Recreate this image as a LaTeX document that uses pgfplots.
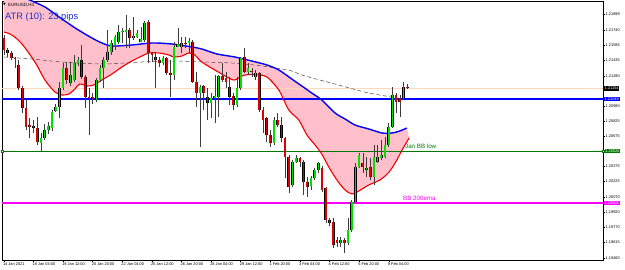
\documentclass[border=0pt]{standalone}
\usepackage{fontspec}
\setmainfont{Liberation Sans}
\newfontfamily\djv{DejaVu Sans}
\usepackage{pgfplots}
\pgfplotsset{compat=1.18}
\usepackage{pgfplotstable}

\definecolor{bandfill}{RGB}{255,192,203}
\definecolor{bandblue}{RGB}{0,0,255}
\definecolor{bandred}{RGB}{240,0,0}
\definecolor{bull}{RGB}{0,225,0}
\definecolor{bear}{RGB}{220,0,0}
\definecolor{wick}{RGB}{60,60,60}
\definecolor{hblue}{RGB}{0,0,255}
\definecolor{hgreen}{RGB}{0,120,0}
\definecolor{hmag}{RGB}{255,0,255}
\definecolor{bid}{RGB}{255,215,185}
\definecolor{atr}{RGB}{25,45,200}
\definecolor{emagray}{RGB}{70,70,70}

% high / low of every H4 bar
\pgfplotstableread{
n h l
0 1.21689 1.21489
1 1.21559 1.21469
2 1.21529 1.21439
3 1.21469 1.21359
4 1.21439 1.21139
5 1.21179 1.20909
6 1.21039 1.20739
7 1.20859 1.20659
8 1.20839 1.20709
9 1.20869 1.20589
10 1.20709 1.20529
11 1.20799 1.20639
12 1.20819 1.20699
13 1.20939 1.20729
14 1.20999 1.20919
15 1.21219 1.20859
16 1.21409 1.21139
17 1.21419 1.21199
18 1.21419 1.21179
19 1.21489 1.21219
20 1.21469 1.21379
21 1.21589 1.21249
22 1.21289 1.20959
23 1.21159 1.20689
24 1.21109 1.20999
25 1.21259 1.21019
26 1.21389 1.21219
27 1.21469 1.21159
28 1.21739 1.21419
29 1.21639 1.21489
30 1.21689 1.21539
31 1.21789 1.21599
32 1.21759 1.21609
33 1.21889 1.21559
34 1.21759 1.21559
35 1.21869 1.21639
36 1.21739 1.21659
37 1.21769 1.21619
38 1.21829 1.21619
39 1.21839 1.21409
40 1.21519 1.21419
41 1.21509 1.21159
42 1.21469 1.21369
43 1.21479 1.21389
44 1.21469 1.21289
45 1.21439 1.21069
46 1.21619 1.21239
47 1.21759 1.21569
48 1.21669 1.21509
49 1.21669 1.21559
50 1.21659 1.21509
51 1.21639 1.21209
52 1.21319 1.20969
53 1.21189 1.20569
54 1.21189 1.20939
55 1.21159 1.20839
56 1.21109 1.20859
57 1.21289 1.20809
58 1.21289 1.20869
59 1.21409 1.21219
60 1.21319 1.21159
61 1.21269 1.20989
62 1.21109 1.20939
63 1.21269 1.20969
64 1.21469 1.21139
65 1.21559 1.21309
66 1.21409 1.21289
67 1.21359 1.21269
68 1.21339 1.21239
69 1.21319 1.20919
70 1.20969 1.20709
71 1.20869 1.20619
72 1.20739 1.20569
73 1.20869 1.20589
74 1.20909 1.20769
75 1.20869 1.20619
76 1.20669 1.20259
77 1.20489 1.20109
78 1.20439 1.20169
79 1.20489 1.20409
80 1.20469 1.20369
81 1.20439 1.20089
82 1.20269 1.20069
83 1.20279 1.20139
84 1.20359 1.20239
85 1.20419 1.20309
86 1.20379 1.20119
87 1.20169 1.19809
88 1.19859 1.19779
89 1.19859 1.19559
90 1.19669 1.19569
91 1.19669 1.19569
92 1.19659 1.19509
93 1.19859 1.19589
94 1.20039 1.19719
95 1.20409 1.20009
96 1.20509 1.20359
97 1.20509 1.20309
98 1.20469 1.20269
99 1.20459 1.20239
100 1.20589 1.20189
101 1.20589 1.20409
102 1.20639 1.20439
103 1.20669 1.20459
104 1.20809 1.20569
105 1.21169 1.20759
106 1.21109 1.20909
107 1.21089 1.20869
108 1.21219 1.21039
109 1.21199 1.21149
}\wicks

% rising bars: open, close
\pgfplotstableread{
n o c
10 1.20609 1.20659
11 1.20659 1.20739
12 1.20739 1.20779
13 1.20759 1.20919
14 1.20929 1.20969
15 1.20969 1.21159
16 1.21159 1.21359
18 1.21209 1.21289
19 1.21239 1.21409
20 1.21409 1.21439
25 1.21039 1.21239
26 1.21239 1.21359
27 1.21359 1.21439
28 1.21439 1.21519
29 1.21519 1.21609
30 1.21589 1.21669
31 1.21619 1.21719
32 1.21719 1.21729
33 1.21719 1.21739
35 1.21659 1.21679
36 1.21669 1.21709
37 1.21619 1.21649
38 1.21639 1.21809
43 1.21409 1.21459
46 1.21289 1.21569
47 1.21569 1.21599
48 1.21569 1.21609
50 1.21609 1.21629
53 1.21109 1.21169
56 1.21009 1.21059
57 1.21059 1.21079
58 1.21069 1.21279
63 1.20989 1.21159
64 1.21159 1.21459
66 1.21319 1.21359
68 1.21269 1.21309
73 1.20609 1.20839
78 1.20189 1.20419
79 1.20419 1.20459
83 1.20179 1.20259
84 1.20259 1.20339
85 1.20339 1.20409
91 1.19609 1.19639
93 1.19609 1.19739
94 1.19739 1.20019
95 1.20019 1.20369
96 1.20369 1.20489
98 1.20339 1.20359
100 1.20269 1.20469
101 1.20419 1.20469
102 1.20459 1.20489
103 1.20469 1.20589
104 1.20589 1.20769
105 1.20769 1.21089
108 1.21059 1.21169
}\bulls

% falling bars: open, close
\pgfplotstableread{
n o c
0 1.21659 1.21539
1 1.21539 1.21509
2 1.21509 1.21459
3 1.21459 1.21449
4 1.21389 1.21159
5 1.21159 1.20959
6 1.20959 1.20769
7 1.20789 1.20769
8 1.20779 1.20759
9 1.20759 1.20619
17 1.21359 1.21239
21 1.21439 1.21269
22 1.21269 1.21069
23 1.21069 1.21059
24 1.21069 1.21049
34 1.21739 1.21659
39 1.21819 1.21509
40 1.21509 1.21489
41 1.21469 1.21439
42 1.21439 1.21409
44 1.21459 1.21309
45 1.21309 1.21289
49 1.21609 1.21599
51 1.21619 1.21219
52 1.21219 1.21109
54 1.21179 1.21109
55 1.21069 1.21009
59 1.21279 1.21239
60 1.21259 1.21219
61 1.21169 1.21069
62 1.21079 1.20989
65 1.21469 1.21319
67 1.21329 1.21319
69 1.21309 1.20939
70 1.20939 1.20839
71 1.20859 1.20689
72 1.20689 1.20609
74 1.20839 1.20789
75 1.20789 1.20659
76 1.20659 1.20469
77 1.20469 1.20169
80 1.20459 1.20419
81 1.20419 1.20219
82 1.20219 1.20169
86 1.20359 1.20139
87 1.20159 1.19839
88 1.19839 1.19809
89 1.19819 1.19589
90 1.19639 1.19609
92 1.19639 1.19609
97 1.20409 1.20369
99 1.20369 1.20269
106 1.21089 1.21019
107 1.21049 1.21019
109 1.21169 1.21154
}\bears

\pgfplotstableread{
n p
0 1.22189
3.5 1.22109
7.0 1.22039
11.1 1.21969
15.7 1.21849
19.7 1.21749
23.8 1.21659
26.5 1.21609
29.2 1.21579
34.6 1.21589
40 1.21609
45.4 1.21599
50.8 1.21569
53.5 1.21549
57.6 1.21499
62.4 1.21469
67 1.21429
71.1 1.21389
74.3 1.21339
77.8 1.21249
80.5 1.21179
83.2 1.21109
85.9 1.21039
89.5 1.20909
92.2 1.20849
94.9 1.20789
98.6 1.20749
102.2 1.20709
104.9 1.20709
107 1.20729
108.9 1.20759
}\bandup

\pgfplotstableread{
n p
0 1.21719
2.2 1.21689
4.9 1.21599
8.4 1.21419
11.1 1.21239
13.8 1.21119
15.7 1.21089
17.6 1.21099
19.2 1.21149
20.5 1.21199
22.4 1.21179
24.3 1.21189
26.5 1.21239
29.2 1.21299
31.9 1.21369
34.6 1.21429
37.3 1.21479
39.2 1.21509
41.9 1.21509
44.6 1.21489
45.9 1.21469
48.1 1.21479
50 1.21509
51.6 1.21489
53.5 1.21419
57 1.21339
60.8 1.21259
62.4 1.21239
65.1 1.21289
68.9 1.21289
71.1 1.21269
74.3 1.21139
77 1.20939
79.7 1.20839
81.9 1.20689
84.1 1.20589
85.9 1.20499
87.8 1.20369
90 1.20239
92.2 1.20139
94.1 1.20099
95.9 1.20129
98.6 1.20189
101.6 1.20239
104.1 1.20319
106.2 1.20439
107.6 1.20539
109.5 1.20659
}\bandlo

% band area: upper band forward, lower band backward
\pgfplotstableread{
n p
0 1.22189
3.5 1.22109
7.0 1.22039
11.1 1.21969
15.7 1.21849
19.7 1.21749
23.8 1.21659
26.5 1.21609
29.2 1.21579
34.6 1.21589
40 1.21609
45.4 1.21599
50.8 1.21569
53.5 1.21549
57.6 1.21499
62.4 1.21469
67 1.21429
71.1 1.21389
74.3 1.21339
77.8 1.21249
80.5 1.21179
83.2 1.21109
85.9 1.21039
89.5 1.20909
92.2 1.20849
94.9 1.20789
98.6 1.20749
102.2 1.20709
104.9 1.20709
107 1.20729
108.9 1.20759
109.5 1.20659
107.6 1.20539
106.2 1.20439
104.1 1.20319
101.6 1.20239
98.6 1.20189
95.9 1.20129
94.1 1.20099
92.2 1.20139
90 1.20239
87.8 1.20369
85.9 1.20499
84.1 1.20589
81.9 1.20689
79.7 1.20839
77 1.20939
74.3 1.21139
71.1 1.21269
68.9 1.21289
65.1 1.21289
62.4 1.21239
60.8 1.21259
57 1.21339
53.5 1.21419
51.6 1.21489
50 1.21509
48.1 1.21479
45.9 1.21469
44.6 1.21489
41.9 1.21509
39.2 1.21509
37.3 1.21479
34.6 1.21429
31.9 1.21369
29.2 1.21299
26.5 1.21239
24.3 1.21189
22.4 1.21179
20.5 1.21199
19.2 1.21149
17.6 1.21099
15.7 1.21089
13.8 1.21119
11.1 1.21239
8.4 1.21419
4.9 1.21599
2.2 1.21689
0 1.21719
}\bandarea

\pgfplotstableread{
n p
0 1.21469
7.6 1.21449
15.7 1.21419
26.5 1.21399
37.3 1.21419
45.4 1.21429
53.5 1.21419
61.6 1.21409
69.7 1.21379
77.8 1.21329
80.5 1.21289
91.4 1.21179
98.6 1.21109
104.9 1.21069
}\emaline

\begin{document}
\begin{tikzpicture}
\useasboundingbox (0,0) rectangle (625pt,270pt);
\begin{axis}[
  at={(2pt,10pt)}, anchor=south west, scale only axis,
  width=601pt, height=259pt,
  xmin=-0.5, xmax=161.9, ymin=1.19439, ymax=1.22029,
  axis line style={line width=0.5pt, black},
  xtick pos=bottom, ytick pos=right, yticklabel pos=right,
  tick align=outside, major tick length=2pt,
  tick style={black, line width=0.4pt},
  xtick={0,8,...,104},
  xticklabels={14 Jan 2021,18 Jan 04:00,19 Jan 12:00,20 Jan 20:00,22 Jan 04:00,25 Jan 12:00,26 Jan 20:00,28 Jan 04:00,29 Jan 12:00,1 Feb 20:00,3 Feb 04:00,4 Feb 12:00,5 Feb 20:00,9 Feb 04:00},
  ytick={1.21899,1.21740,1.21585,1.21435,1.21280,1.20980,1.20825,1.20675,1.20375,1.20225,1.20070,1.19920,1.19770,1.19615,1.19460},
  yticklabels={1.21899,1.21740,1.21585,1.21435,1.21280,1.20980,1.20825,1.20675,1.20375,1.20225,1.20070,1.19920,1.19770,1.19615,1.19460},
  xticklabel style={anchor=north west, inner sep=0pt, xshift=-1pt, yshift=-0.5pt, font=\fontsize{3.9}{4.5}\selectfont},
  yticklabel style={anchor=west, inner sep=0pt, xshift=0.5pt, font=\fontsize{3.9}{4.5}\selectfont},
]
% band fill
\addplot[fill=bandfill, draw=none, forget plot] table[x=n,y=p]{\bandarea};
% horizontal lines
\addplot[draw=bid, line width=0.7pt, forget plot] coordinates {(-0.5,1.21154) (161.9,1.21154)};
\addplot[draw=hblue, line width=1.1pt, forget plot] coordinates {(-0.5,1.21049) (161.9,1.21049)};
\addplot[draw=hgreen, line width=1.1pt, forget plot] coordinates {(-0.5,1.20526) (161.9,1.20526)};
\addplot[draw=hmag, line width=1.9pt, forget plot] coordinates {(-0.5,1.20006) (161.9,1.20006)};
% EMA dashed
\addplot[draw=emagray, line width=0.5pt, dash pattern=on 4pt off 2.5pt, smooth, forget plot] table[x=n,y=p]{\emaline};
% band lines
\addplot[draw=bandblue, line width=1.4pt, smooth, forget plot] table[x=n,y=p]{\bandup};
\addplot[draw=bandred, line width=1.1pt, smooth, forget plot] table[x=n,y=p]{\bandlo};
% wicks
\addplot[mark=none, draw opacity=0, forget plot, error bars/.cd, y dir=plus, y explicit, error mark=none, error bar style={draw opacity=1, wick, line width=0.55pt}]
  table[x=n, y=l, y error expr=\thisrow{h}-\thisrow{l}]{\wicks};
% body outlines
\addplot[mark=none, draw opacity=0, forget plot, error bars/.cd, y dir=plus, y explicit, error mark=none, error bar style={draw opacity=1, black, line width=2.7pt}]
  table[x=n, y=o, y error expr=\thisrow{c}-\thisrow{o}]{\bulls};
\addplot[mark=none, draw opacity=0, forget plot, error bars/.cd, y dir=plus, y explicit, error mark=none, error bar style={draw opacity=1, black, line width=2.7pt}]
  table[x=n, y=c, y error expr=\thisrow{o}-\thisrow{c}]{\bears};
% bodies
\addplot[mark=none, draw opacity=0, forget plot, error bars/.cd, y dir=plus, y explicit, error mark=none, error bar style={draw opacity=1, bull, line width=1.7pt}]
  table[x=n, y=o, y error expr=\thisrow{c}-\thisrow{o}]{\bulls};
\addplot[mark=none, draw opacity=0, forget plot, error bars/.cd, y dir=plus, y explicit, error mark=none, error bar style={draw opacity=1, bear, line width=1.7pt}]
  table[x=n, y=c, y error expr=\thisrow{o}-\thisrow{c}]{\bears};
\coordinate (bidR) at (axis cs:161.9,1.21154);
\coordinate (blueR) at (axis cs:161.9,1.21049);
\coordinate (greenR) at (axis cs:161.9,1.20526);
\coordinate (magR) at (axis cs:161.9,1.20006);
\coordinate (greenL) at (axis cs:-0.5,1.20526);
\end{axis}
\draw[hgreen, line width=0.4pt, fill=white] ([xshift=-1pt,yshift=-1pt]greenL) rectangle ([xshift=1pt,yshift=1pt]greenL);
\draw[hgreen, line width=0.4pt, fill=white] ([xshift=-1pt,yshift=-1pt]greenR) rectangle ([xshift=1pt,yshift=1pt]greenR);
\node[anchor=west, fill=black, text=white, inner sep=0.7pt, xshift=0.8pt, font=\fontsize{3.9}{4.5}\selectfont] at (bidR) {1.21154};
\node[anchor=west, fill=hblue, text=white, inner sep=0.7pt, xshift=0.8pt, font=\fontsize{3.9}{4.5}\selectfont] at (blueR) {1.21049};
\node[anchor=west, fill=hgreen, text=white, inner sep=0.7pt, xshift=1.5pt, font=\fontsize{3.9}{4.5}\selectfont] at (greenR) {1.20526};
\node[anchor=west, fill=hmag, text=white, inner sep=0.7pt, xshift=0.8pt, font=\fontsize{3.9}{4.5}\selectfont] at (magR) {1.20006};
\node[anchor=west, inner sep=0pt, text=atr, font=\fontsize{9.3}{10}\selectfont] at (5pt,253pt) {ATR (10): 23 pips};
\node[anchor=west, inner sep=0pt, font=\djv\fontsize{3.5}{4}\selectfont] at (3pt,265pt) {▼};
\node[anchor=west, inner sep=0pt, font=\fontsize{4.5}{5}\selectfont] at (8pt,265pt) {EURUSD,H4};
\node[anchor=west, inner sep=0pt, text=hgreen, font=\fontsize{6.2}{7}\selectfont] at (405pt,124pt) {Jan BB low};
\node[anchor=west, inner sep=0pt, text=hmag, font=\fontsize{6.2}{7}\selectfont] at (403pt,72pt) {BB 200ema};
\end{tikzpicture}
\end{document}
